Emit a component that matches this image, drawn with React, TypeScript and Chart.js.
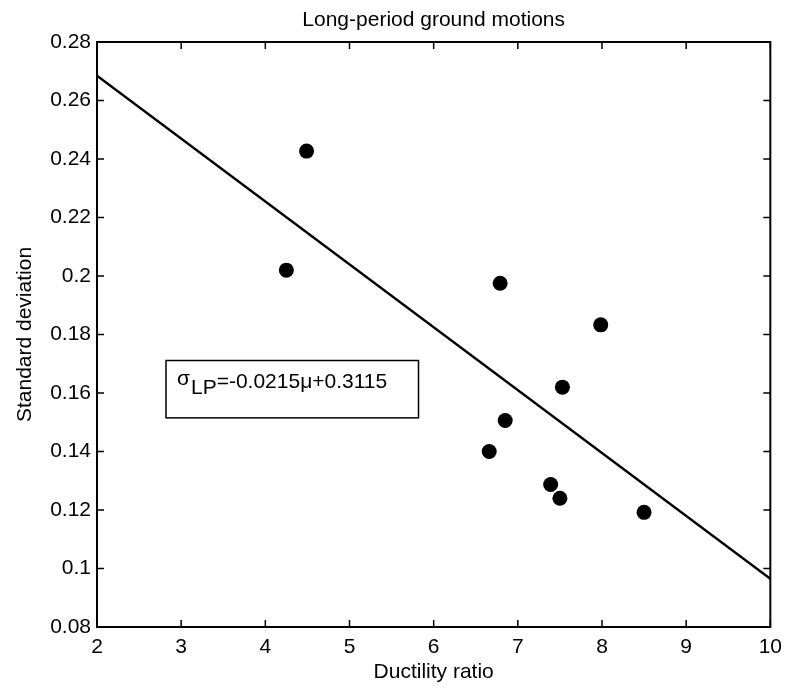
import React, { useEffect, useRef } from 'react';
import { Chart, registerables } from 'chart.js';

Chart.register(...registerables);

// ---- data ----
const xTickValues = [2, 3, 4, 5, 6, 7, 8, 9, 10];
const xTickLabels = ['2', '3', '4', '5', '6', '7', '8', '9', '10'];
const yTickValues = [0.08, 0.1, 0.12, 0.14, 0.16, 0.18, 0.2, 0.22, 0.24, 0.26, 0.28];
const yTickLabels = ['0.08', '0.1', '0.12', '0.14', '0.16', '0.18', '0.2', '0.22', '0.24', '0.26', '0.28'];

const ductility = [4.49, 4.25, 6.79, 7.985, 7.53, 6.85, 6.66, 7.39, 7.5, 8.5];
const stdDev = [0.2427, 0.202, 0.1975, 0.1833, 0.162, 0.1506, 0.14, 0.1287, 0.124, 0.1192];

const fitX = [2, 10];
const fitY = [0.2685, 0.0965];

const titleText = 'Long-period ground motions';
const xTitleText = 'Ductility ratio';
const yTitleText = 'Standard deviation';
const eqSymbol = 'σ';
const eqSub = 'LP';
const eqRest = '=-0.0215μ+0.3115';

// equation box placement (data coordinates)
const eqBoxX = [2.82, 5.82];
const eqBoxY = [0.1711, 0.1515];

const FONT = '"Liberation Sans", Arial, Helvetica, sans-serif';
const FS = 21;

const framePlugin = {
  id: 'matlabFrame',
  afterDraw(chart: any) {
    const { ctx, chartArea } = chart;
    const xs = chart.scales.x;
    const ys = chart.scales.y;
    const { left, right, top, bottom } = chartArea;
    ctx.save();
    ctx.strokeStyle = '#000';
    ctx.lineWidth = 1.5;
    const tl = 7;
    ctx.beginPath();
    xTickValues.forEach((v) => {
      const px = xs.getPixelForValue(v);
      ctx.moveTo(px, bottom);
      ctx.lineTo(px, bottom - tl);
      ctx.moveTo(px, top);
      ctx.lineTo(px, top + tl);
    });
    yTickValues.forEach((v) => {
      const py = ys.getPixelForValue(v);
      ctx.moveTo(left, py);
      ctx.lineTo(left + tl, py);
      ctx.moveTo(right, py);
      ctx.lineTo(right - tl, py);
    });
    ctx.stroke();
    ctx.lineWidth = 2;
    ctx.strokeRect(left, top, right - left, bottom - top);

    // equation box
    const bx0 = xs.getPixelForValue(eqBoxX[0]);
    const bx1 = xs.getPixelForValue(eqBoxX[1]);
    const by0 = ys.getPixelForValue(eqBoxY[0]);
    const by1 = ys.getPixelForValue(eqBoxY[1]);
    ctx.fillStyle = '#fff';
    ctx.fillRect(bx0, by0, bx1 - bx0, by1 - by0);
    ctx.lineWidth = 1.5;
    ctx.strokeRect(bx0, by0, bx1 - bx0, by1 - by0);

    ctx.fillStyle = '#000';
    ctx.font = `${FS}px ${FONT}`;
    ctx.textBaseline = 'alphabetic';
    ctx.textAlign = 'left';
    let tx = bx0 + 11;
    ctx.fillText(eqSymbol, tx, by0 + 24);
    tx += ctx.measureText(eqSymbol).width + 1;
    ctx.fillText(eqSub, tx, by0 + 33);
    tx += ctx.measureText(eqSub).width;
    ctx.fillText(eqRest, tx, by0 + 27);
    ctx.restore();
  },
};

export default function App() {
  const canvasRef = useRef<HTMLCanvasElement | null>(null);

  useEffect(() => {
    const canvas = canvasRef.current;
    if (!canvas) return;
    const chart = new Chart(canvas, {
      type: 'scatter',
      data: {
        datasets: [
          {
            label: 'fit',
            data: fitX.map((x, i) => ({ x, y: fitY[i] })),
            showLine: true,
            borderColor: '#000',
            borderWidth: 2.4,
            pointRadius: 0,
            fill: false,
          },
          {
            label: 'data',
            data: ductility.map((x, i) => ({ x, y: stdDev[i] })),
            pointRadius: 7.5,
            pointBackgroundColor: '#000',
            pointBorderWidth: 0,
            borderColor: '#000',
            showLine: false,
          },
        ],
      },
      options: {
        animation: false,
        responsive: false,
        devicePixelRatio: 1,
        layout: { padding: { left: 0, right: 16, top: 0, bottom: 0 } },
        plugins: {
          legend: { display: false },
          tooltip: { enabled: false },
          title: {
            display: true,
            text: titleText,
            color: '#000',
            fullSize: false,
            font: { family: FONT, size: FS, weight: 'normal' },
            padding: { top: 8, bottom: 8.8 },
          },
        },
        scales: {
          x: {
            type: 'linear',
            min: 2,
            max: 10,
            afterBuildTicks: (s: any) => {
              s.ticks = xTickValues.map((v) => ({ value: v }));
            },
            afterFit: (s: any) => {
              s.height = 62;
            },
            ticks: {
              callback: (v: any) => {
                const i = xTickValues.indexOf(Number(v));
                return i >= 0 ? xTickLabels[i] : '';
              },
              color: '#000',
              font: { family: FONT, size: FS },
              padding: 8,
              maxRotation: 0,
              autoSkip: false,
            },
            grid: { display: false, drawTicks: false },
            border: { display: false },
            title: {
              display: true,
              text: xTitleText,
              color: '#000',
              font: { family: FONT, size: FS },
              padding: { top: 0, bottom: 4 },
            },
          },
          y: {
            type: 'linear',
            min: 0.08,
            max: 0.28,
            afterBuildTicks: (s: any) => {
              s.ticks = yTickValues.map((v) => ({ value: v }));
            },
            afterFit: (s: any) => {
              s.width = 97;
            },
            ticks: {
              callback: (v: any) => {
                const i = yTickValues.indexOf(Number(v));
                return i >= 0 ? yTickLabels[i] : '';
              },
              color: '#000',
              font: { family: FONT, size: FS },
              padding: 6,
              autoSkip: false,
            },
            grid: { display: false, drawTicks: false },
            border: { display: false },
            title: {
              display: true,
              text: yTitleText,
              color: '#000',
              font: { family: FONT, size: FS },
              padding: { top: 13, bottom: 0 },
            },
          },
        },
      },
      plugins: [framePlugin],
    } as any);
    return () => chart.destroy();
  }, []);

  return (
    <div style={{ position: 'absolute', left: 0, top: 0, width: 790, height: 689, background: '#fff' }}>
      <canvas ref={canvasRef} width={790} height={689} style={{ display: 'block', width: 790, height: 689 }} />
    </div>
  );
}
